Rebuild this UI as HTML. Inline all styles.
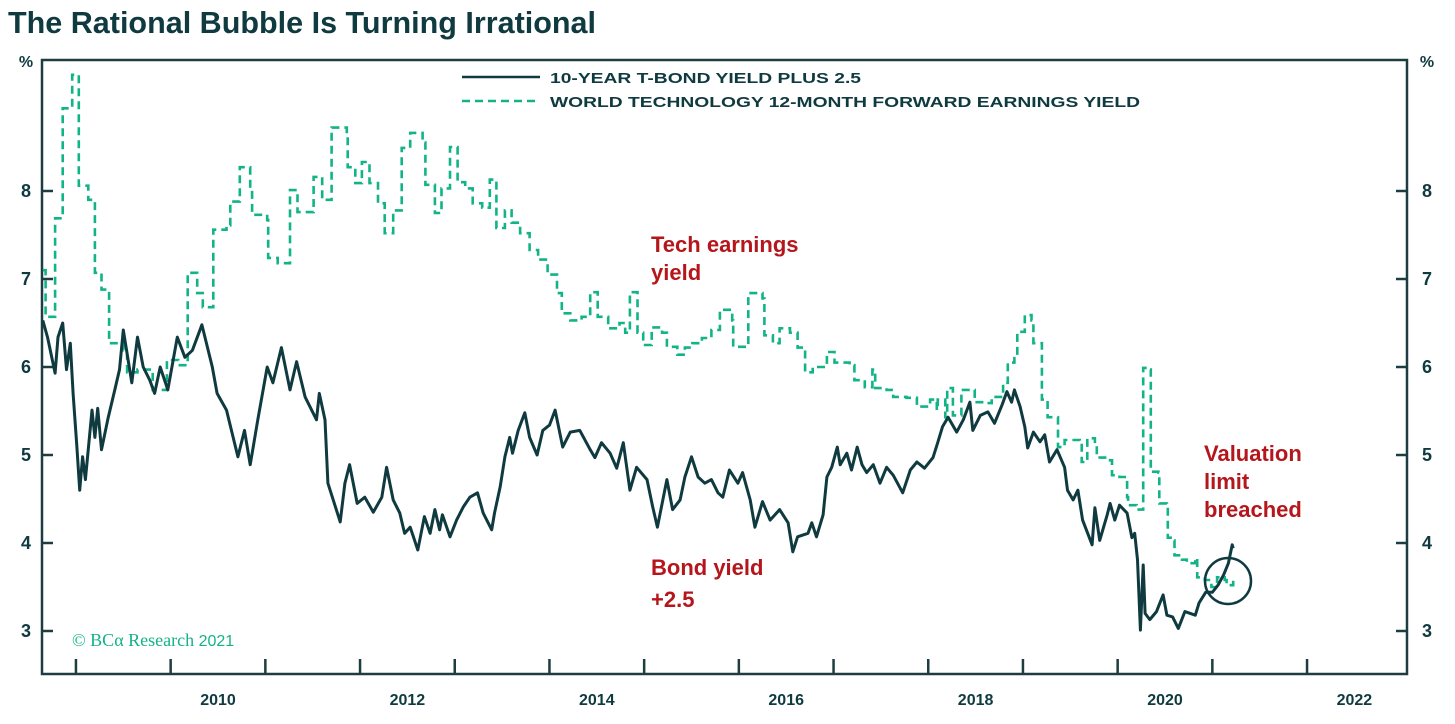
<!DOCTYPE html>
<html><head><meta charset="utf-8"><style>
body{margin:0;background:#fff}
svg{display:block;font-family:"Liberation Sans",sans-serif}
</style></head><body>
<svg id="chart" width="1455" height="724" viewBox="0 0 1455 724" xmlns="http://www.w3.org/2000/svg">
<text x="8" y="33" font-family="'Liberation Sans Narrow','Liberation Sans',sans-serif" font-weight="bold" font-size="31" fill="#0f3a40" textLength="588" lengthAdjust="spacingAndGlyphs">The Rational Bubble Is Turning Irrational</text>
<g id="axes"></g>
<g id="series"></g>
<g>
<line x1="462" y1="77" x2="540" y2="77" stroke="#0f3a40" stroke-width="2.5"/>
<text x="550" y="83" font-weight="bold" font-size="15" fill="#0f3a40" textLength="311" lengthAdjust="spacingAndGlyphs">10-YEAR T-BOND YIELD PLUS 2.5</text>
<line x1="462" y1="101" x2="540" y2="101" stroke="#12b386" stroke-width="2.5" stroke-dasharray="8,5"/>
<text x="550" y="107" font-weight="bold" font-size="15" fill="#0f3a40" textLength="590" lengthAdjust="spacingAndGlyphs">WORLD TECHNOLOGY 12-MONTH FORWARD EARNINGS YIELD</text>
</g>
<g font-weight="bold" font-size="22" fill="#b5161b">
<text x="651" y="252">Tech earnings</text>
<text x="651" y="280">yield</text>
<text x="651" y="575">Bond yield</text>
<text x="651" y="607">+2.5</text>
<text x="1204" y="461">Valuation</text>
<text x="1204" y="489">limit</text>
<text x="1204" y="517">breached</text>
</g>
<circle cx="1228" cy="581" r="23" fill="none" stroke="#0f3a40" stroke-width="2.5"/>
<text x="72" y="646" font-family="'Liberation Serif',serif" font-size="18" fill="#12b386">© BCα Research <tspan font-family="'Liberation Sans',sans-serif" font-size="16">2021</tspan></text>
</svg>
<script>
const bondDates=[2008.65,2008.70,2008.78,2008.81,2008.86,2008.90,2008.94,2008.97,2009.01,2009.04,2009.07,2009.10,2009.17,2009.20,2009.23,2009.27,2009.34,2009.41,2009.46,2009.50,2009.59,2009.65,2009.71,2009.78,2009.83,2009.89,2009.97,2010.07,2010.15,2010.23,2010.33,2010.44,2010.49,2010.59,2010.71,2010.78,2010.84,2010.92,2011.02,2011.08,2011.17,2011.26,2011.33,2011.42,2011.54,2011.57,2011.63,2011.66,2011.79,2011.84,2011.89,2011.97,2012.05,2012.14,2012.23,2012.28,2012.35,2012.42,2012.47,2012.53,2012.61,2012.68,2012.74,2012.79,2012.84,2012.87,2012.95,2013.02,2013.09,2013.16,2013.24,2013.30,2013.39,2013.42,2013.48,2013.53,2013.58,2013.61,2013.67,2013.74,2013.79,2013.87,2013.93,2014.00,2014.06,2014.14,2014.22,2014.32,2014.43,2014.48,2014.55,2014.64,2014.71,2014.78,2014.85,2014.92,2015.03,2015.09,2015.14,2015.24,2015.30,2015.38,2015.43,2015.50,2015.57,2015.64,2015.71,2015.78,2015.83,2015.90,2015.99,2016.04,2016.12,2016.17,2016.25,2016.33,2016.43,2016.52,2016.57,2016.62,2016.73,2016.77,2016.82,2016.89,2016.93,2016.98,2017.04,2017.07,2017.14,2017.19,2017.25,2017.30,2017.35,2017.42,2017.49,2017.56,2017.63,2017.73,2017.81,2017.88,2017.96,2018.05,2018.10,2018.15,2018.21,2018.30,2018.37,2018.44,2018.47,2018.55,2018.63,2018.70,2018.78,2018.83,2018.88,2018.91,2018.97,2019.02,2019.05,2019.11,2019.18,2019.23,2019.28,2019.36,2019.44,2019.47,2019.53,2019.58,2019.63,2019.73,2019.76,2019.81,2019.89,2019.92,2019.97,2020.02,2020.10,2020.15,2020.18,2020.21,2020.24,2020.27,2020.29,2020.34,2020.41,2020.48,2020.52,2020.58,2020.64,2020.71,2020.82,2020.86,2020.93,2021.00,2021.06,2021.12,2021.17,2021.21,2021.22];
const bondValues=[6.53,6.34,5.93,6.34,6.50,5.97,6.27,5.70,5.09,4.60,4.98,4.72,5.51,5.20,5.53,5.06,5.42,5.74,5.97,6.42,5.82,6.34,6.00,5.85,5.70,6.00,5.74,6.34,6.11,6.19,6.48,6.00,5.70,5.51,4.98,5.28,4.89,5.40,6.00,5.82,6.22,5.74,6.06,5.66,5.40,5.70,5.40,4.68,4.24,4.68,4.89,4.45,4.52,4.35,4.52,4.86,4.49,4.34,4.11,4.18,3.92,4.30,4.11,4.38,4.15,4.32,4.07,4.26,4.41,4.52,4.57,4.34,4.15,4.34,4.64,4.98,5.20,5.02,5.28,5.48,5.20,5.00,5.28,5.34,5.51,5.09,5.26,5.28,5.06,4.97,5.14,5.02,4.85,5.14,4.60,4.86,4.72,4.41,4.18,4.72,4.38,4.49,4.75,4.98,4.75,4.68,4.72,4.57,4.52,4.83,4.68,4.80,4.49,4.18,4.47,4.26,4.38,4.23,3.90,4.07,4.11,4.23,4.07,4.32,4.75,4.86,5.09,4.89,5.02,4.83,5.09,4.89,4.80,4.89,4.68,4.86,4.77,4.57,4.83,4.92,4.85,4.97,5.14,5.32,5.43,5.26,5.40,5.60,5.28,5.45,5.49,5.36,5.57,5.72,5.60,5.74,5.55,5.32,5.08,5.26,5.15,5.23,4.92,5.06,4.86,4.60,4.49,4.60,4.26,3.98,4.40,4.03,4.32,4.45,4.26,4.43,4.34,4.06,4.11,3.81,3.01,3.75,3.20,3.13,3.22,3.41,3.18,3.16,3.03,3.22,3.18,3.32,3.44,3.44,3.52,3.64,3.77,3.98,3.94];
const techDates=[2008.65,2008.68,2008.78,2008.86,2008.96,2009.03,2009.13,2009.20,2009.27,2009.35,2009.50,2009.54,2009.65,2009.81,2009.96,2010.08,2010.18,2010.28,2010.34,2010.45,2010.59,2010.63,2010.73,2010.84,2010.86,2011.02,2011.03,2011.13,2011.26,2011.34,2011.51,2011.60,2011.70,2011.86,2011.87,2011.95,2012.02,2012.10,2012.19,2012.26,2012.35,2012.44,2012.53,2012.66,2012.69,2012.79,2012.86,2012.95,2013.03,2013.11,2013.19,2013.29,2013.37,2013.44,2013.53,2013.60,2013.69,2013.79,2013.88,2013.98,2014.08,2014.13,2014.22,2014.34,2014.43,2014.51,2014.62,2014.74,2014.80,2014.85,2014.93,2014.99,2015.08,2015.19,2015.24,2015.35,2015.43,2015.51,2015.61,2015.71,2015.80,2015.93,2015.94,2016.08,2016.10,2016.25,2016.27,2016.36,2016.43,2016.54,2016.62,2016.70,2016.78,2016.93,2017.01,2017.17,2017.22,2017.33,2017.41,2017.44,2017.56,2017.63,2017.77,2017.88,2018.02,2018.09,2018.10,2018.18,2018.20,2018.26,2018.35,2018.44,2018.49,2018.62,2018.67,2018.79,2018.84,2018.91,2018.94,2019.02,2019.09,2019.11,2019.18,2019.20,2019.26,2019.36,2019.37,2019.44,2019.60,2019.62,2019.68,2019.76,2019.78,2019.92,2019.94,2020.02,2020.10,2020.11,2020.20,2020.26,2020.27,2020.34,2020.35,2020.43,2020.44,2020.52,2020.53,2020.58,2020.60,2020.68,2020.73,2020.82,2020.84,2020.92,2020.99,2021.05,2021.13,2021.15,2021.22];
const techValues=[7.10,6.57,7.69,8.94,9.32,8.06,7.90,7.07,6.88,6.27,6.19,5.94,5.97,5.74,6.08,6.02,7.07,6.84,6.68,7.56,7.61,7.88,8.27,8.05,7.73,7.67,7.24,7.18,8.01,7.76,8.16,7.90,8.72,8.61,8.27,8.09,8.33,8.09,7.86,7.52,7.78,8.49,8.66,8.55,8.07,7.75,8.03,8.50,8.10,8.03,7.86,7.81,8.13,7.58,7.78,7.64,7.52,7.33,7.22,7.05,6.84,6.61,6.53,6.57,6.85,6.57,6.44,6.50,6.39,6.85,6.39,6.25,6.45,6.39,6.23,6.14,6.22,6.27,6.33,6.42,6.65,6.53,6.23,6.25,6.84,6.78,6.36,6.27,6.44,6.39,6.22,5.94,6.00,6.17,6.05,6.02,5.85,5.77,5.97,5.76,5.74,5.66,5.65,5.55,5.63,5.51,5.63,5.43,5.76,5.45,5.74,5.74,5.60,5.59,5.66,5.82,6.05,6.10,6.40,6.59,6.53,6.27,6.27,5.63,5.43,5.43,5.09,5.17,5.14,4.92,5.19,5.15,4.97,4.94,4.77,4.75,4.52,4.43,4.38,4.38,5.99,5.97,4.81,4.80,4.45,4.41,4.06,4.03,3.86,3.81,3.77,3.83,3.61,3.58,3.50,3.61,3.58,3.52,3.61];
const yTicks=[3,4,5,6,7,8];
const xTickYears=[2009,2010,2011,2012,2013,2014,2015,2016,2017,2018,2019,2020,2021,2022];
const xLabelYears=[2010,2012,2014,2016,2018,2020,2022];

const NS="http://www.w3.org/2000/svg";
function X(t){return 218+(t-2010.5)*94.7;}
function Y(v){return 631-(v-3)*88;}
const L=42,R=1407,T=60,B=674,AX="#1e3d40";
function mk(tag,attrs,parent){const e=document.createElementNS(NS,tag);for(const k in attrs)e.setAttribute(k,attrs[k]);parent.appendChild(e);return e;}
const axes=document.getElementById('axes');
const frame=mk('path',{d:`M${L},${T}H${R}V${B}H${L}Z`,fill:'none',stroke:AX,'stroke-width':2.5},axes);


yTicks.forEach(v=>{
  const y=Y(v);
  const tl=mk('line',{x1:L,y1:y,x2:L+11,y2:y,stroke:AX,'stroke-width':2.5},axes);
  
  
  const tr=mk('line',{x1:R-11,y1:y,x2:R,y2:y,stroke:AX,'stroke-width':2.5},axes);
  
  
  const a=mk('text',{x:26,y:y+6,'text-anchor':'middle','font-weight':'bold','font-size':18,fill:'#0f3a40'},axes);a.textContent=v;
  
  
  const b=mk('text',{x:1427,y:y+6,'text-anchor':'middle','font-weight':'bold','font-size':18,fill:'#0f3a40'},axes);b.textContent=v;
  
  
});
[26,1427].forEach(x=>{const p=mk('text',{x:x,y:67,'text-anchor':'middle','font-weight':'bold','font-size':16,fill:'#0f3a40'},axes);p.textContent='%';
  
  });
xTickYears.forEach(yr=>{
  const t=mk('line',{x1:X(yr),y1:B-15,x2:X(yr),y2:B,stroke:AX,'stroke-width':2.5},axes);
  
  
});
xLabelYears.forEach(yr=>{
  const t=mk('text',{x:X(yr+0.5),y:705,'text-anchor':'middle','font-weight':'bold','font-size':16,fill:'#0f3a40'},axes);t.textContent=yr;
  
  
});
const series=document.getElementById('series');
function pathFrom(d,v){return d.map((t,i)=>(i?'L':'M')+X(t).toFixed(1)+','+Y(v[i]).toFixed(1)).join('');}
function stepFrom(d,v){let s='M'+X(d[0]).toFixed(1)+','+Y(v[0]).toFixed(1);for(let i=1;i<d.length;i++){s+='H'+X(d[i]).toFixed(1)+'V'+Y(v[i]).toFixed(1);}return s;}
const tech=mk('path',{d:stepFrom(techDates,techValues),fill:'none',stroke:'#12b386','stroke-width':2.6,'stroke-dasharray':'8,5'},series);


const bond=mk('path',{d:pathFrom(bondDates,bondValues),fill:'none',stroke:'#0f3a40','stroke-width':3,'stroke-linejoin':'round'},series);


</script>
</body></html>
